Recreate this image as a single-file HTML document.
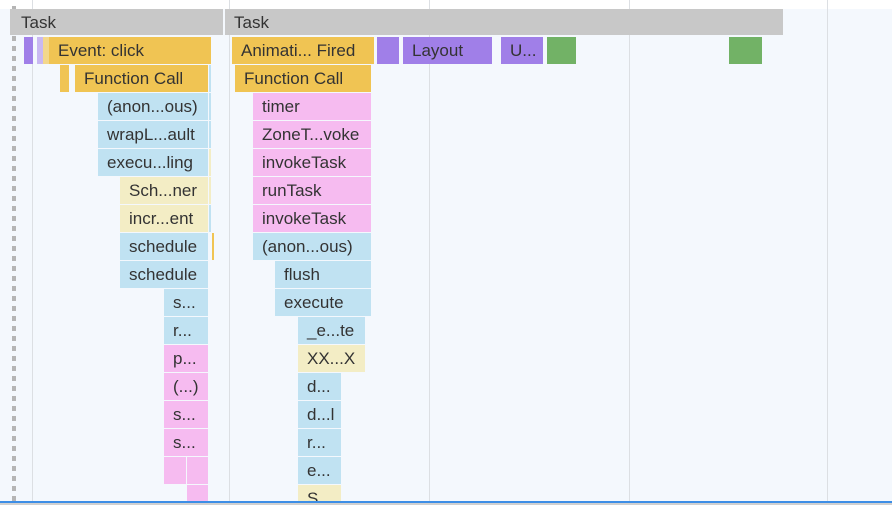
<!DOCTYPE html>
<html><head><meta charset="utf-8"><style>
*{margin:0;padding:0;box-sizing:border-box}
html,body{width:892px;height:505px;overflow:hidden}
body{background:#fff;position:relative;font-family:"Liberation Sans",sans-serif;}
#bg{position:absolute;left:0;top:9px;width:892px;height:496px;background:#f4f8fd}
.g{position:absolute;top:0;width:1px;height:505px;background:#dcdfe3}
.b{position:absolute;height:27px;font-size:17px;line-height:27px;color:#333;padding-left:9px;white-space:nowrap;overflow:hidden;border-right:1px solid #f4f8fd}
.y{background:#f0c453}.u{background:#c0e2f2}.p{background:#f6bbf0}.l{background:#f3edc5}.v{background:#a07fe8}.gr{background:#72b266}.t{background:#c8c8c8}
</style></head><body>
<div id="bg"></div>
<div class="g" style="left:32px"></div>
<div class="g" style="left:229px"></div>
<div class="g" style="left:429px"></div>
<div class="g" style="left:629px"></div>
<div class="g" style="left:827px"></div>
<div style="position:absolute;left:12px;top:6px;width:4px;height:499px;background:repeating-linear-gradient(#b5b5b5 0 5px,transparent 5px 10px)"></div>

<div class="b t" style="left:10px;top:9px;width:214px;height:26px;padding-left:11px">Task</div>
<div class="b t" style="left:225px;top:9px;width:559px;height:26px">Task</div>

<div class="b v" style="left:24px;top:37px;width:7px"></div>
<div class="b" style="left:37px;top:37px;width:2px;background:#c9b8f2"></div>
<div class="b" style="left:43px;top:37px;width:2px;background:#f3d78c"></div>
<div class="b y" style="left:49px;top:37px;width:163px">Event: click</div>
<div class="b y" style="left:232px;top:37px;width:143px">Animati... Fired</div>
<div class="b v" style="left:377px;top:37px;width:23px"></div>
<div class="b v" style="left:403px;top:37px;width:90px">Layout</div>
<div class="b v" style="left:501px;top:37px;width:43px">U...</div>
<div class="b gr" style="left:547px;top:37px;width:30px"></div>
<div class="b gr" style="left:729px;top:37px;width:34px"></div>

<div class="b y" style="left:60px;top:65px;width:7px"></div>
<div class="b y" style="left:75px;top:65px;width:134px">Function Call</div>
<div class="b u" style="left:209px;top:65px;width:3px;padding:0"></div>
<div class="b y" style="left:235px;top:65px;width:137px">Function Call</div>

<div class="b u" style="left:98px;top:93px;width:111px">(anon...ous)</div>
<div class="b u" style="left:209px;top:93px;width:3px;padding:0"></div>
<div class="b p" style="left:253px;top:93px;width:119px">timer</div>

<div class="b u" style="left:98px;top:121px;width:111px">wrapL...ault</div>
<div class="b u" style="left:209px;top:121px;width:3px;padding:0"></div>
<div class="b p" style="left:253px;top:121px;width:119px">ZoneT...voke</div>

<div class="b u" style="left:98px;top:149px;width:111px">execu...ling</div>
<div class="b l" style="left:209px;top:149px;width:3px;padding:0"></div>
<div class="b p" style="left:253px;top:149px;width:119px">invokeTask</div>

<div class="b l" style="left:120px;top:177px;width:89px">Sch...ner</div>
<div class="b l" style="left:209px;top:177px;width:3px;padding:0"></div>
<div class="b p" style="left:253px;top:177px;width:119px">runTask</div>

<div class="b l" style="left:120px;top:205px;width:89px">incr...ent</div>
<div class="b u" style="left:209px;top:205px;width:3px;padding:0"></div>
<div class="b p" style="left:253px;top:205px;width:119px">invokeTask</div>

<div class="b u" style="left:120px;top:233px;width:89px">schedule</div>
<div class="b y" style="left:212px;top:233px;width:2px;padding:0;border:0"></div>
<div class="b u" style="left:253px;top:233px;width:119px">(anon...ous)</div>

<div class="b u" style="left:120px;top:261px;width:89px">schedule</div>
<div class="b u" style="left:275px;top:261px;width:97px">flush</div>

<div class="b u" style="left:164px;top:289px;width:45px">s...</div>
<div class="b u" style="left:275px;top:289px;width:97px">execute</div>

<div class="b u" style="left:164px;top:317px;width:45px">r...</div>
<div class="b u" style="left:298px;top:317px;width:68px">_e...te</div>

<div class="b p" style="left:164px;top:345px;width:45px">p...</div>
<div class="b l" style="left:298px;top:345px;width:68px">XX...X</div>

<div class="b p" style="left:164px;top:373px;width:45px">(...)</div>
<div class="b u" style="left:298px;top:373px;width:44px">d...</div>

<div class="b p" style="left:164px;top:401px;width:45px">s...</div>
<div class="b u" style="left:298px;top:401px;width:44px">d...l</div>

<div class="b p" style="left:164px;top:429px;width:45px">s...</div>
<div class="b u" style="left:298px;top:429px;width:44px">r...</div>

<div class="b p" style="left:164px;top:457px;width:23px"></div>
<div class="b p" style="left:187px;top:457px;width:22px"></div>
<div class="b u" style="left:298px;top:457px;width:44px">e...</div>

<div class="b p" style="left:187px;top:485px;width:22px;height:16px"></div>
<div class="b l" style="left:298px;top:485px;width:44px;height:16px">S...</div>

<div style="position:absolute;left:0;top:501px;width:892px;height:2px;background:#3d8ee6"></div>
<div style="position:absolute;left:0;top:503px;width:892px;height:2px;background:#d0d0d0"></div>
</body></html>
